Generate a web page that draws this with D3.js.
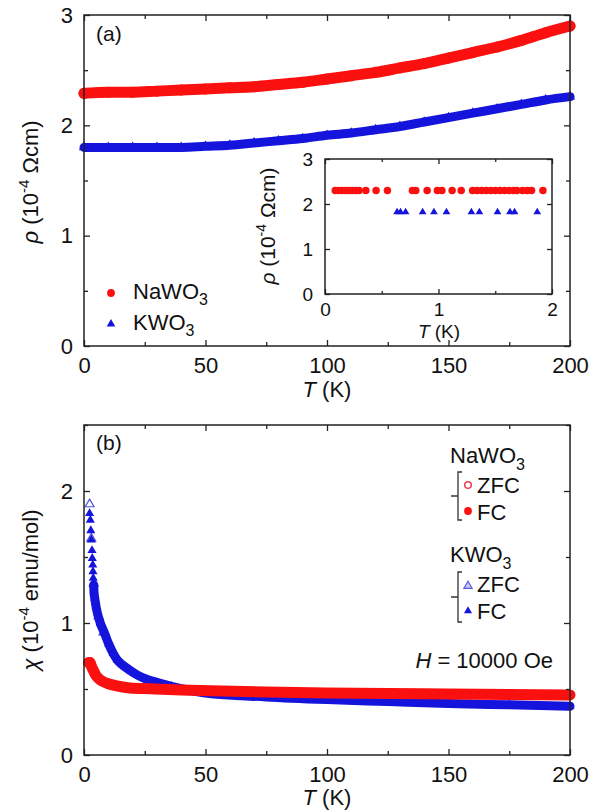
<!DOCTYPE html>
<html><head><meta charset="utf-8">
<script src="https://cdn.jsdelivr.net/npm/d3@7"></script>
<style>
body{margin:0;background:#fff}
text{font-family:"Liberation Sans",Arial,Helvetica,sans-serif;fill:#111}
</style>
</head><body>
<svg id="c" width="600" height="812"></svg>
<script>
// ---------- data ----------
// panel (a): resistivity vs T (K)
const rhoT  = [0,10,20,30,40,50,60,70,80,90,100,110,120,130,140,150,160,170,180,190,200];
const rhoNa = [2.29,2.30,2.30,2.31,2.32,2.33,2.34,2.35,2.37,2.39,2.42,2.45,2.48,2.52,2.56,2.61,2.66,2.71,2.77,2.84,2.90];
const rhoK  = [1.80,1.80,1.80,1.80,1.80,1.81,1.82,1.84,1.86,1.88,1.91,1.93,1.96,1.99,2.03,2.07,2.11,2.15,2.19,2.23,2.26];
// inset: low temperature
const insetNaT   = [0.09,0.12,0.15,0.18,0.21,0.24,0.27,0.30,0.36,0.45,0.55,0.77,0.80,0.90,0.99,1.03,1.12,1.20,1.30,1.34,1.38,1.42,1.46,1.50,1.54,1.58,1.62,1.66,1.69,1.74,1.78,1.82,1.92];
const insetNaRho = [2.30,2.30,2.30,2.30,2.30,2.30,2.30,2.30,2.30,2.30,2.30,2.30,2.30,2.30,2.30,2.30,2.30,2.30,2.30,2.30,2.30,2.30,2.30,2.30,2.30,2.30,2.30,2.30,2.30,2.30,2.30,2.30,2.30];
const insetKT    = [0.635,0.665,0.71,0.86,0.96,1.07,1.29,1.36,1.52,1.63,1.67,1.87];
const insetKRho  = [1.82,1.82,1.82,1.82,1.82,1.82,1.82,1.82,1.82,1.82,1.82,1.82];
// panel (b): susceptibility vs T (K)
const chiNaT  = [1.8,2.5,3,4,5,6,8,10,13,18,25,32,40,52,75,100,125,150,175,200];
const chiNaFC = [0.70,0.70,0.675,0.635,0.60,0.58,0.555,0.54,0.525,0.51,0.503,0.498,0.492,0.487,0.478,0.47,0.465,0.462,0.458,0.455];
const chiNaZfcT = [2,5,10,20,50,100,150,200];
const chiNaZfc  = [0.70,0.60,0.54,0.51,0.487,0.47,0.462,0.455];
const chiKT  = [2.3,2.6,2.8,3.0,3.3,3.4,3.6,3.7,3.8,4.0,4.1,4.4,4.65,5.0,6.7,8.3,10.2,12,13.7,16,19,22,26.3,30,36,50,75,100,125,150,175,200];
const chiKFC = [1.83,1.78,1.70,1.63,1.55,1.49,1.44,1.39,1.34,1.29,1.24,1.19,1.16,1.12,1.00,0.93,0.84,0.77,0.72,0.68,0.64,0.605,0.57,0.55,0.52,0.47,0.44,0.42,0.405,0.39,0.38,0.37];
const chiKZfcT = [2.3,3.0,4.0,6.0,8.0];
const chiKZfc  = [1.90,1.64,1.30,1.05,0.93];
// ticks
const tTicks = [0,50,100,150,200], tMinor = [25,75,125,175];
const rhoTicks = [0,1,2,3], rhoMinor = [0.5,1.5,2.5];
const insetXTicks = [0,1,2], insetXMinor = [0.5,1.5];
const insetYTicks = [0,1,2,3];
const chiTicks = [0,1,2], chiMinor = [0.5,1.5,2.5];

const RED = "#fb1010", BLUE = "#1414dc";
const svg = d3.select("#c");
const zip = (a,b)=>a.map((v,i)=>[v,b[i]]);

function frame(g, x, y, o){
  const [x0,x1] = x.range(), [y1,y0] = y.range();
  const w = x1-x0, h = y1-y0;
  const fs = o.fs;
  const mk = (axis, tr, vals, size, fmt, pad) => {
    const a = axis.tickValues(vals).tickSizeInner(size).tickSizeOuter(0).tickPadding(pad||0);
    if(fmt!==undefined) a.tickFormat(fmt);
    const gg = g.append("g").attr("transform",tr).call(a);
    gg.select(".domain").remove();
    gg.selectAll("line").attr("stroke","#222").attr("stroke-width",1.3);
    gg.selectAll("text").attr("font-size",fs).attr("fill","#111").attr("font-family","Liberation Sans, Arial, sans-serif");
    return gg;
  };
  mk(d3.axisBottom(x), `translate(0,${y1})`, o.xt, -o.maj, d3.format("d"), o.xpad);
  mk(d3.axisBottom(x), `translate(0,${y1})`, o.xm, -o.min, "");
  mk(d3.axisTop(x), `translate(0,${y0})`, o.xt, -o.maj, "");
  mk(d3.axisTop(x), `translate(0,${y0})`, o.xm, -o.min, "");
  mk(d3.axisLeft(y), `translate(${x0},0)`, o.yt, -o.maj, d3.format("d"), o.ypad);
  if(o.ym) mk(d3.axisLeft(y), `translate(${x0},0)`, o.ym, -o.min, "");
  mk(d3.axisRight(y), `translate(${x1},0)`, o.yt, -o.maj, "");
  if(o.ym) mk(d3.axisRight(y), `translate(${x1},0)`, o.ym, -o.min, "");
  g.append("rect").attr("x",x0).attr("y",y0).attr("width",w).attr("height",h)
    .attr("fill","none").attr("stroke","#222").attr("stroke-width",1.5);
}

function band(g, x, y, pts, color, width){
  g.append("path").datum(pts)
    .attr("d", d3.line().x(d=>x(d[0])).y(d=>y(d[1])).curve(d3.curveMonotoneX))
    .attr("fill","none").attr("stroke",color).attr("stroke-width",width)
    .attr("stroke-linecap","round").attr("stroke-linejoin","round");
}
function marks(g, x, y, pts, type, area, fill, stroke, sw){
  g.selectAll(null).data(pts).enter().append("path")
    .attr("transform", d=>`translate(${x(d[0])},${y(d[1])})`)
    .attr("d", d3.symbol().type(type).size(area)())
    .attr("fill", fill).attr("stroke", stroke||"none").attr("stroke-width", sw||0);
}

// ---------- panel (a) ----------
const xa = d3.scaleLinear().domain([0,200]).range([84,570]);
const ya = d3.scaleLinear().domain([0,3]).range([346,15]);
const ga = svg.append("g");
band(ga, xa, ya, zip(rhoT, rhoK), BLUE, 9);
marks(ga, xa, ya, zip(rhoT, rhoK), d3.symbolTriangle, 45, BLUE);
band(ga, xa, ya, zip(rhoT, rhoNa), RED, 11);
marks(ga, xa, ya, zip(rhoT, rhoNa), d3.symbolCircle, 95, RED);
frame(ga, xa, ya, {xt:tTicks, xm:tMinor, yt:rhoTicks, ym:rhoMinor, maj:6, min:4, fs:22, xpad:11, ypad:11});
ga.append("text").attr("x",96).attr("y",41).attr("font-size",21).text("(a)");
// x label
ga.append("text").attr("x",327).attr("y",397).attr("text-anchor","middle").attr("font-size",22)
  .html('<tspan font-style="italic">T</tspan> (K)');
// y label
ga.append("text").attr("transform","translate(38,182) rotate(-90)").attr("text-anchor","middle").attr("font-size",22)
  .html('<tspan font-style="italic">ρ</tspan> (10<tspan dy="-9" font-size="15">-4</tspan><tspan dy="9"> Ωcm)</tspan>');
// legend
marks(ga, d3.scaleIdentity(), d3.scaleIdentity(), [[111,293]], d3.symbolCircle, 48, RED);
marks(ga, d3.scaleIdentity(), d3.scaleIdentity(), [[111,324]], d3.symbolTriangle, 32, BLUE);
ga.append("text").attr("x",133).attr("y",299).attr("font-size",22)
  .html('NaWO<tspan dy="6" font-size="16">3</tspan>');
ga.append("text").attr("x",133).attr("y",330).attr("font-size",22)
  .html('KWO<tspan dy="6" font-size="16">3</tspan>');

// ---------- inset ----------
const xi = d3.scaleLinear().domain([0,2]).range([325,552]);
const yi = d3.scaleLinear().domain([0,3]).range([294,159]);
const gi = svg.append("g");
gi.append("rect").attr("x",325).attr("y",159).attr("width",227).attr("height",135).attr("fill","#fff");
marks(gi, xi, yi, zip(insetNaT, insetNaRho), d3.symbolCircle, 44, RED);
marks(gi, xi, yi, zip(insetKT, insetKRho), d3.symbolTriangle, 26, BLUE);
frame(gi, xi, yi, {xt:insetXTicks, xm:insetXMinor, yt:insetYTicks, ym:null, maj:5, min:3, fs:19, xpad:9, ypad:12});
gi.append("text").attr("x",439).attr("y",338).attr("text-anchor","middle").attr("font-size",19)
  .html('<tspan font-style="italic">T</tspan> (K)');
gi.append("text").attr("transform","translate(275,226) rotate(-90)").attr("text-anchor","middle").attr("font-size",21)
  .html('<tspan font-style="italic">ρ</tspan> (10<tspan dy="-9" font-size="14">-4</tspan><tspan dy="9"> Ωcm)</tspan>');

// ---------- panel (b) ----------
const xb = d3.scaleLinear().domain([0,200]).range([84,570]);
const yb = d3.scaleLinear().domain([0,2.5]).range([755,425]);
const gb = svg.append("g");
marks(gb, xb, yb, zip(chiKZfcT, chiKZfc), d3.symbolTriangle, 34, "#fff", "#5050e0", 1.2);
marks(gb, xb, yb, zip(chiNaZfcT, chiNaZfc), d3.symbolCircle, 40, "#fff", "#e84050", 1.2);
band(gb, xb, yb, zip(chiKT, chiKFC).filter(d=>d[0]>=4.0), BLUE, 9);
marks(gb, xb, yb, zip(chiKT, chiKFC), d3.symbolTriangle, 36, BLUE);
band(gb, xb, yb, zip(chiNaT, chiNaFC), RED, 11);
frame(gb, xb, yb, {xt:tTicks, xm:tMinor, yt:chiTicks, ym:chiMinor, maj:6, min:4, fs:22, xpad:11, ypad:11});
gb.append("text").attr("x",96).attr("y",450).attr("font-size",21).text("(b)");
gb.append("text").attr("x",327).attr("y",805).attr("text-anchor","middle").attr("font-size",22)
  .html('<tspan font-style="italic">T</tspan> (K)');
gb.append("text").attr("transform","translate(38,590) rotate(-90)").attr("text-anchor","middle").attr("font-size",22)
  .html('<tspan font-style="italic">χ</tspan> (10<tspan dy="-9" font-size="15">-4</tspan><tspan dy="9"> emu/mol)</tspan>');
// legend
const id = d3.scaleIdentity();
function bracket(g, x, yTop, yBot){
  const ym = (yTop+yBot)/2;
  g.append("path").attr("d",`M${x+4},${yTop}H${x}V${yBot}H${x+4}M${x},${ym}H${x-7}`)
    .attr("fill","none").attr("stroke","#333").attr("stroke-width",1.3);
}
gb.append("text").attr("x",450).attr("y",463).attr("font-size",22).html('NaWO<tspan dy="7" font-size="16">3</tspan>');
bracket(gb, 458, 472, 520);
marks(gb, id, id, [[468,485]], d3.symbolCircle, 34, "#fff", "#e84050", 1.5);
marks(gb, id, id, [[468,511]], d3.symbolCircle, 48, RED);
gb.append("text").attr("x",477).attr("y",493).attr("font-size",22).text("ZFC");
gb.append("text").attr("x",477).attr("y",520).attr("font-size",22).text("FC");
gb.append("text").attr("x",450).attr("y",562).attr("font-size",22).html('KWO<tspan dy="7" font-size="16">3</tspan>');
bracket(gb, 458, 572, 622);
marks(gb, id, id, [[468,586]], d3.symbolTriangle, 30, "#c8c8f6", "#5a5ae4", 1.2);
marks(gb, id, id, [[468,611]], d3.symbolTriangle, 28, BLUE);
gb.append("text").attr("x",477).attr("y",592).attr("font-size",22).text("ZFC");
gb.append("text").attr("x",477).attr("y",619).attr("font-size",22).text("FC");
gb.append("text").attr("x",553).attr("y",668).attr("text-anchor","end").attr("font-size",22)
  .html('<tspan font-style="italic">H</tspan> = 10000 Oe');
</script>
</body></html>
